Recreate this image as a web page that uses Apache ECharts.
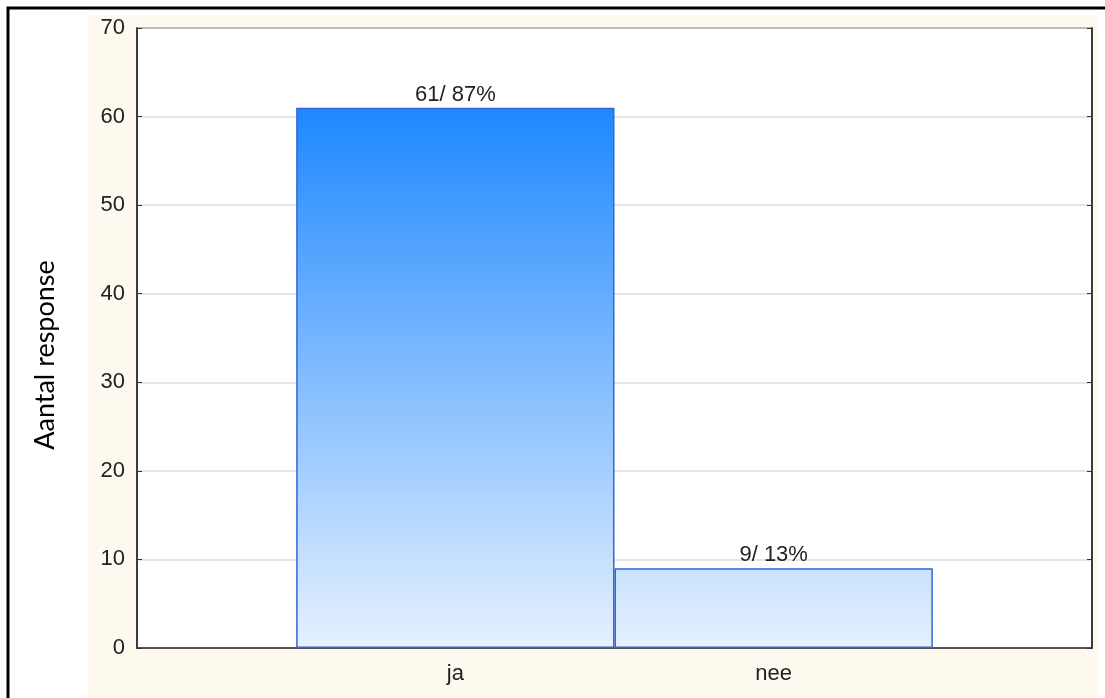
<!DOCTYPE html>
<html>
<head>
<meta charset="utf-8">
<title>Aantal response</title>
<script src="https://cdn.jsdelivr.net/npm/echarts@6/dist/echarts.min.js"></script>
<style>
  html, body { margin: 0; padding: 0; background: #fff; }
  #chart { width: 1105px; height: 698px; }
</style>
</head>
<body>
<div id="chart"></div>
<script>
// categories with empty slots at both ends so the bars sit at 1/3 and 2/3
const categories = ['', 'ja', 'nee', '']
const counts = ['-', 61, 9, '-']
const yTicks = { min: 0, max: 70, interval: 10 }

const total = counts.filter(v => v !== '-').reduce((a, b) => a + b, 0)

const myChart = echarts.init(document.getElementById('chart'))

const labelFont = {
  color: '#222',
  fontSize: 22,
  fontFamily: 'Liberation Sans, Arial, sans-serif'
}

const option = {
  animation: false,
  backgroundColor: '#fff',
  graphic: [
    {
      type: 'rect',
      z: -10,
      shape: { x: 88, y: 15, width: 1010, height: 690 },
      style: { fill: '#fef9ef' }
    },
    {
      type: 'polyline',
      z: 10,
      shape: { points: [[8, 705], [8, 8], [1110, 8]] },
      style: { stroke: '#000', lineWidth: 3, fill: null }
    }
  ],
  grid: {
    left: 137,
    right: 13,
    top: 28,
    bottom: 50,
    show: true,
    backgroundColor: '#fff',
    borderColor: '#222',
    borderWidth: 1.5
  },
  xAxis: {
    type: 'category',
    data: categories,
    boundaryGap: false,
    axisLine: { lineStyle: { color: '#333', width: 1.5 } },
    axisTick: {
      inside: true,
      length: 5,
      interval: (i, v) => v !== '',
      lineStyle: { color: '#333' }
    },
    axisLabel: {
      ...labelFont,
      margin: 15,
      interval: 0
    },
    splitLine: { show: false }
  },
  yAxis: [
    {
      type: 'value',
      ...yTicks,
      name: 'Aantal response',
      nameLocation: 'middle',
      nameRotate: 90,
      nameGap: 78,
      nameTextStyle: {
        color: '#000',
        fontSize: 27,
        fontFamily: 'Lato, Open Sans, sans-serif',
        padding: [0, 34, 0, 0]
      },
      axisLine: { show: true, lineStyle: { color: '#333', width: 1.5 } },
      axisTick: { show: true, inside: true, length: 5, lineStyle: { color: '#333' } },
      axisLabel: { ...labelFont, margin: 12 },
      splitLine: { lineStyle: { color: '#dcdcdc', width: 1.5 } }
    },
    {
      type: 'value',
      position: 'right',
      ...yTicks,
      axisLine: { show: true, lineStyle: { color: '#333', width: 1.5 } },
      axisTick: { show: true, inside: true, length: 5, lineStyle: { color: '#333' } },
      axisLabel: { show: false },
      splitLine: { show: false }
    }
  ],
  series: [
    {
      type: 'bar',
      data: counts,
      barCategoryGap: '0%',
      itemStyle: {
        color: '#1e88ff',
        borderColor: '#3366d6',
        borderWidth: 1.5
      },
      label: {
        show: true,
        position: 'top',
        distance: 2,
        ...labelFont,
        formatter: p => p.value + '/ ' + Math.round(p.value / total * 100) + '%'
      }
    }
  ]
}

myChart.setOption(option)

// gradient follows the value scale, so both bars share it
const maxVal = Math.max(...counts.filter(v => v !== '-'))
const yTop = myChart.convertToPixel({ yAxisIndex: 0 }, maxVal)
const yBottom = myChart.convertToPixel({ yAxisIndex: 0 }, 0)
myChart.setOption({
  series: [
    {
      itemStyle: {
        color: {
          type: 'linear',
          x: 0,
          y: yTop,
          x2: 0,
          y2: yBottom,
          colorStops: [
            { offset: 0, color: '#1e88ff' },
            { offset: 1, color: '#e6f1fe' }
          ],
          global: true
        }
      }
    }
  ]
})
</script>
</body>
</html>
